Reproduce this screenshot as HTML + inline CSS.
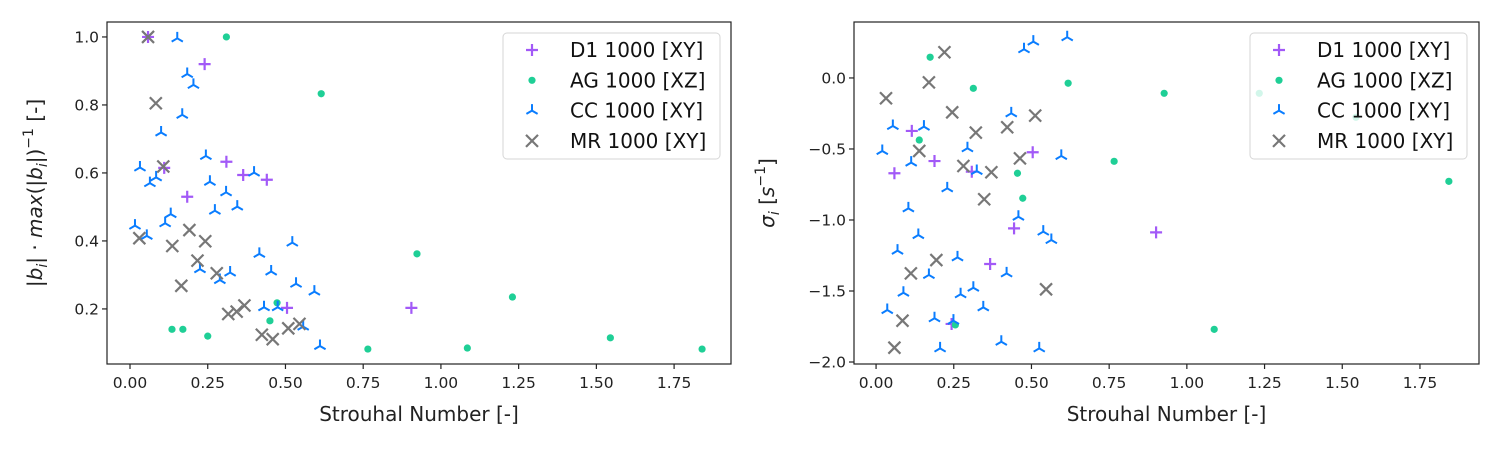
<!DOCTYPE html>
<html><head><meta charset="utf-8"><style>
html,body{margin:0;padding:0;background:#fff}
svg{display:block;font-family:"DejaVu Sans","Liberation Sans",sans-serif}
</style></head><body>
<svg id="chart" width="1500" height="450" viewBox="0 0 1500 450"></svg>
<script>
// ---- data ----
const leftD1X=[0.058,0.24,0.11,0.31,0.364,0.44,0.184,0.505,0.905];
const leftD1Y=[1.0,0.92,0.615,0.633,0.594,0.58,0.53,0.203,0.203];
const leftAGX=[0.31,0.615,0.473,0.45,0.135,0.17,0.25,0.765,0.923,1.085,1.23,1.545,1.84];
const leftAGY=[1.0,0.833,0.218,0.165,0.14,0.14,0.12,0.082,0.362,0.085,0.235,0.115,0.082];
const leftCCX=[0.152,0.184,0.204,0.168,0.1,0.032,0.244,0.084,0.064,0.399,0.257,0.309,0.273,0.345,0.131,0.113,0.016,0.054,0.522,0.416,0.225,0.322,0.289,0.454,0.534,0.593,0.431,0.475,0.557,0.611];
const leftCCY=[0.996,0.891,0.859,0.771,0.719,0.616,0.65,0.587,0.57,0.601,0.574,0.543,0.489,0.501,0.479,0.452,0.445,0.415,0.395,0.362,0.317,0.307,0.285,0.31,0.274,0.251,0.205,0.205,0.148,0.091];
const leftMRX=[0.058,0.083,0.107,0.03,0.136,0.191,0.242,0.217,0.165,0.279,0.316,0.343,0.368,0.424,0.459,0.509,0.545];
const leftMRY=[1.0,0.805,0.619,0.408,0.385,0.432,0.399,0.342,0.268,0.305,0.185,0.192,0.21,0.124,0.111,0.143,0.156];

const rightD1X=[0.115,0.188,0.059,0.308,0.504,0.444,0.367,0.243,0.901];
const rightD1Y=[-0.373,-0.585,-0.671,-0.66,-0.523,-1.059,-1.31,-1.732,-1.087];
const rightAGX=[0.174,0.313,0.618,0.139,0.455,0.472,0.255,0.927,0.766,1.233,1.544,1.843,1.088];
const rightAGY=[0.146,-0.073,-0.037,-0.437,-0.671,-0.847,-1.739,-0.108,-0.587,-0.108,-0.277,-0.728,-1.77];
const rightCCX=[0.615,0.506,0.476,0.435,0.054,0.154,0.02,0.294,0.113,0.324,0.596,0.229,0.104,0.458,0.538,0.564,0.136,0.069,0.262,0.17,0.42,0.088,0.272,0.313,0.345,0.036,0.188,0.249,0.403,0.206,0.525];
const rightCCY=[0.287,0.256,0.202,-0.249,-0.338,-0.343,-0.514,-0.495,-0.596,-0.655,-0.549,-0.777,-0.918,-0.977,-1.082,-1.141,-1.106,-1.216,-1.263,-1.387,-1.376,-1.512,-1.523,-1.477,-1.615,-1.634,-1.692,-1.709,-1.857,-1.904,-1.904];
const rightMRX=[0.22,0.17,0.032,0.245,0.512,0.422,0.321,0.139,0.463,0.281,0.371,0.348,0.194,0.112,0.547,0.085,0.059];
const rightMRY=[0.181,-0.031,-0.143,-0.242,-0.265,-0.347,-0.385,-0.514,-0.566,-0.62,-0.664,-0.854,-1.282,-1.376,-1.488,-1.709,-1.899];

const xTicks=[0,0.25,0.5,0.75,1.0,1.25,1.5,1.75];
const xTickLabels=["0.00","0.25","0.50","0.75","1.00","1.25","1.50","1.75"];
const leftYTicks=[0.2,0.4,0.6,0.8,1.0];
const leftYTickLabels=["0.2","0.4","0.6","0.8","1.0"];
const rightYTicks=[0,-0.5,-1.0,-1.5,-2.0];
const rightYTickLabels=["0.0","\u22120.5","\u22121.0","\u22121.5","\u22122.0"];
const seriesNames=["D1 1000 [XY]","AG 1000 [XZ]","CC 1000 [XY]","MR 1000 [XY]"];

const COL={d1:"#a259f7",ag:"#1fcf96",cc:"#0a7dff",mr:"#777777"};
const NS="http://www.w3.org/2000/svg";
const svg=document.getElementById('chart');
function mk(tag,attrs,parent){const e=document.createElementNS(NS,tag);for(const k in attrs)e.setAttribute(k,attrs[k]);(parent||svg).appendChild(e);return e;}

function drawMarker(g,type,px,py,alpha){
  let m;
  if(type==='d1'){m=mk('path',{d:`M${px-6},${py}H${px+6}M${px},${py-6}V${py+6}`,stroke:COL.d1,'stroke-width':2.2,fill:'none'},g);}
  else if(type==='ag'){m=mk('circle',{cx:px,cy:py,r:3.6,fill:COL.ag},g);}
  else if(type==='cc'){m=mk('path',{d:`M${px},${py}V${py-6.5}M${px},${py}L${px-5.6},${py+3.3}M${px},${py}L${px+5.6},${py+3.3}`,stroke:COL.cc,'stroke-width':2,fill:'none'},g);}
  else {m=mk('path',{d:`M${px-6},${py-6}L${px+6},${py+6}M${px-6},${py+6}L${px+6},${py-6}`,stroke:COL.mr,'stroke-width':2.2,fill:'none'},g);}
  if(alpha)m.setAttribute('opacity',alpha);
  return m;
}

function panel(cfg){
  const {L,R,T,B,xmin,xmax,ymin,ymax,prefix}=cfg;
  const sx=v=>L+(v-xmin)/(xmax-xmin)*(R-L);
  const sy=v=>B-(v-ymin)/(ymax-ymin)*(B-T);
  const g=mk('g',{});
  
  
  const series=[['d1',cfg.d1x,cfg.d1y],['ag',cfg.agx,cfg.agy],['cc',cfg.ccx,cfg.ccy],['mr',cfg.mrx,cfg.mry]];
  series.forEach(([t,xs,ys])=>{
    const sg=mk('g',{},g);
    
    
    xs.forEach((x,i)=>{const m=drawMarker(sg,t,sx(x),sy(ys[i]));
      
      });
  });
  const fr=mk('rect',{x:L,y:T,width:R-L,height:B-T,fill:'none',stroke:'#222','stroke-width':1.2},g);
  
  
  xTicks.forEach((v,i)=>{const x=sx(v);
    mk('line',{x1:x,x2:x,y1:B,y2:B+5,stroke:'#222','stroke-width':1.2},g);
    const t=mk('text',{x:x,y:B+24,'text-anchor':'middle','font-size':15.5,fill:'#222'},g);t.textContent=xTickLabels[i];
    
    });
  cfg.yt.forEach((v,i)=>{const y=sy(v);
    mk('line',{x1:L-5,x2:L,y1:y,y2:y,stroke:'#222','stroke-width':1.2},g);
    const t=mk('text',{x:L-8,y:y+5.5,'text-anchor':'end','font-size':15.5,fill:'#222'},g);t.textContent=cfg.ytl[i];
    
    });
  const xt=mk('text',{x:(L+R)/2,y:B+57,'text-anchor':'middle','font-size':20,fill:'#222'},g);
  xt.textContent='Strouhal Number [-]';
  
  
  const lg=mk('g',{},g);
  
  
  const lx=cfg.legX, ly=33;
  mk('rect',{x:lx,y:ly,width:217,height:126,rx:4,fill:'#fff','fill-opacity':0.8,stroke:'#d6d6d6','stroke-width':1},lg);
  ['d1','ag','cc','mr'].forEach((t,i)=>{const yy=ly+17+i*30.3;
    drawMarker(lg,t,lx+29,yy);
    const tx=mk('text',{x:lx+67,y:yy+7,'font-size':20,fill:'#111'},lg);tx.textContent=seriesNames[i];
    
    });
  return g;
}

panel({L:107,R:731,T:22,B:364,xmin:-0.074,xmax:1.933,ymin:0.038,ymax:1.044,prefix:'left',
  d1x:leftD1X,d1y:leftD1Y,agx:leftAGX,agy:leftAGY,ccx:leftCCX,ccy:leftCCY,mrx:leftMRX,mry:leftMRY,
  yt:leftYTicks,ytl:leftYTickLabels,legX:503});
panel({L:854,R:1479,T:22,B:364,xmin:-0.071,xmax:1.94,ymin:-2.014,ymax:0.394,prefix:'right',
  d1x:rightD1X,d1y:rightD1Y,agx:rightAGX,agy:rightAGY,ccx:rightCCX,ccy:rightCCY,mrx:rightMRX,mry:rightMRY,
  yt:rightYTicks,ytl:rightYTickLabels,legX:1250});

const yl=mk('text',{transform:'translate(42,193) rotate(-90)','text-anchor':'middle','font-size':20,fill:'#222'});
yl.innerHTML='|<tspan font-style="italic">b</tspan><tspan font-style="italic" font-size="14" dy="5">i</tspan><tspan dy="-5">| · </tspan><tspan font-style="italic">max</tspan>(|<tspan font-style="italic">b</tspan><tspan font-style="italic" font-size="14" dy="5">i</tspan><tspan dy="-5">|)</tspan><tspan font-size="14" dy="-9">−1</tspan><tspan dy="9"> [-]</tspan>';


const yr=mk('text',{transform:'translate(774,193) rotate(-90)','text-anchor':'middle','font-size':20,fill:'#222'});
yr.innerHTML='<tspan font-style="italic">σ</tspan><tspan font-style="italic" font-size="14" dy="5">i</tspan><tspan dy="-5"> [</tspan><tspan font-style="italic">s</tspan><tspan font-size="14" dy="-9">−1</tspan><tspan dy="9">]</tspan>';


</script>
</body></html>
